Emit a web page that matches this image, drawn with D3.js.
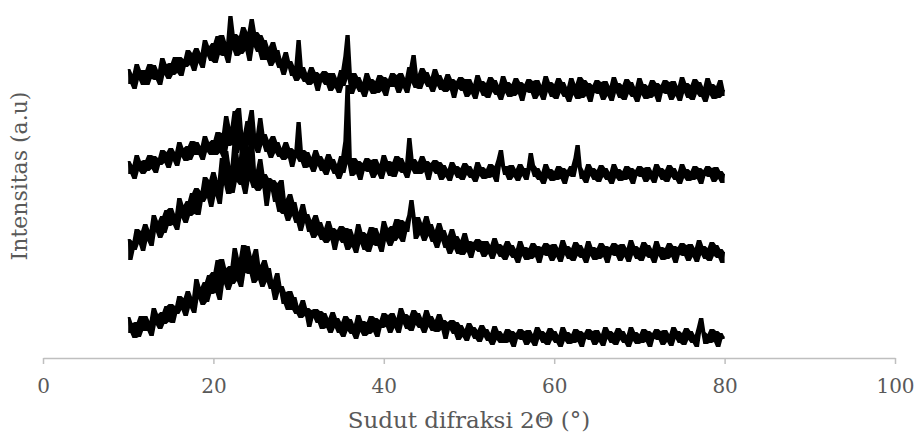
<!DOCTYPE html>
<html>
<head>
<meta charset="utf-8">
<script src="https://cdn.jsdelivr.net/npm/d3@7"></script>
<style>
  body { margin: 0; background: #fff; }
  text { font-family: "DejaVu Serif", serif; }
</style>
</head>
<body>
<div id="chart"></div>
<script>
// ----------------------
// Data (intensitas, a.u., sudah digeser per pola)
// ----------------------
const twoThetaStart = 10;
const twoThetaStep = 0.25;
const xTicks = [0, 20, 40, 60, 80, 100];

const pola1 = [
  287,272,282,267, 292,276,286,271, 286,271,292,277, 291,276,286,271, 298,281,292,277,
  293,281,299,283, 299,280,297,289, 306,291,303,285, 308,293,303,288, 316,300,310,295,
  313,293,320,301, 321,300,314,293, 340,306,322,300, 320,302,329,305, 324,295,337,309,
  324,304,321,296, 316,296,309,290, 314,294,306,288, 297,281,304,288, 295,280,290,275,
  316,278,289,274, 283,271,289,273, 284,265,282,274, 285,271,283,265, 283,268,278,263,
  286,270,300,321, 277,262,283,268, 279,264,274,259, 283,266,277,262, 275,263,281,265,
  279,260,277,269, 283,269,281,263, 283,268,278,263, 289,273,301,268, 282,267,288,273,
  284,269,279,264, 287,270,281,266, 276,264,282,266, 277,258,275,267, 279,265,277,259,
  277,262,272,257, 281,265,275,260, 273,258,279,264, 276,261,271,256, 280,263,274,259,
  272,260,278,262, 274,255,272,264, 277,263,275,257, 276,261,271,256, 280,264,274,259,
  272,257,278,263, 274,259,269,254, 278,261,272,257, 279,258,276,260, 273,254,271,263,
  276,262,274,256, 275,260,270,255, 279,263,273,258, 271,256,277,262, 274,259,269,254,
  278,261,272,257, 270,258,276,260, 273,254,271,263, 276,262,274,256, 275,260,270,255,
  279,263,273,258, 271,256,277,262, 274,259,269,254, 278,261,272,257, 270,258,276,260,
  266
];

const pola2 = [
  195,182,191,177, 201,185,195,182, 196,185,201,187, 200,183,198,191, 206,193,204,188,
  208,195,204,190, 214,199,208,195, 210,196,215,201, 214,201,210,196, 220,204,214,201,
  216,201,224,203, 223,198,240,210, 229,211,245,203, 248,210,223,204, 235,214,246,208,
  222,203,238,211, 222,204,216,198, 220,203,214,199, 208,196,214,198, 208,189,206,198,
  234,194,206,188, 204,189,199,184, 206,190,200,185, 196,181,202,187, 197,182,192,177,
  200,183,215,271, 192,180,198,182, 195,176,193,185, 198,184,196,178, 197,182,192,177,
  201,185,195,180, 194,179,200,185, 198,183,193,178, 218,186,197,182, 194,182,200,184,
  195,176,193,185, 196,182,194,176, 191,179,187,175, 194,182,190,178, 188,176,193,181,
  190,178,186,174, 194,180,189,177, 187,178,192,179, 190,174,197,206, 190,181,190,176,
  191,179,187,175, 192,180,188,176, 186,203,191,179, 188,176,184,172, 192,178,187,175,
  185,176,190,177, 188,172,186,180, 190,179,198,211, 189,177,185,173, 192,180,188,176,
  186,174,191,179, 188,176,184,172, 192,178,187,175, 185,176,190,177, 188,172,186,180,
  190,179,188,174, 189,177,185,173, 192,180,188,176, 186,174,191,179, 188,176,184,172,
  192,178,187,175, 185,176,190,177, 188,172,186,180, 190,179,188,174, 189,177,185,173,
  182
];

const pola3 = [
  117,96,115,106, 127,112,125,105, 132,115,126,110, 141,124,135,118, 140,123,146,130,
  148,131,142,126, 158,138,151,133, 155,140,163,142, 168,141,165,154, 179,158,176,149,
  184,160,176,152, 198,171,205,162, 190,163,215,174, 198,171,221,162, 206,175,218,168,
  186,165,197,168, 182,150,178,165, 176,154,173,144, 176,142,157,135, 162,140,154,133,
  144,125,152,133, 142,124,136,118, 141,121,134,116, 128,113,135,116, 128,106,126,116,
  130,113,128,106, 127,109,121,103, 132,112,124,106, 122,104,129,111, 128,110,122,104,
  135,115,128,110, 130,115,137,118, 136,114,134,124, 141,156,139,117, 139,121,133,115,
  140,120,132,114, 126,108,133,115, 126,108,120,102, 127,107,120,102, 116,101,123,104,
  115,98,114,106, 117,104,115,99, 115,102,111,97, 118,103,112,99, 110,96,115,101,
  111,98,107,93, 115,100,109,96, 108,97,113,99, 110,93,109,101, 113,100,111,95,
  112,99,108,94, 116,101,110,97, 108,95,114,100, 111,98,107,93, 115,100,109,96,
  108,97,113,99, 110,93,109,101, 113,100,111,95, 112,99,108,94, 116,101,110,97,
  108,95,114,100, 111,98,107,93, 115,100,109,96, 108,97,113,99, 110,93,109,101,
  113,100,111,95, 112,99,108,94, 116,101,110,97, 108,95,114,100, 111,98,107,93,
  104
];

const pola4 = [
  39,23,33,18, 34,19,40,25, 40,25,35,20, 48,31,42,27, 44,32,50,34,
  52,33,50,42, 60,46,58,40, 65,48,59,43, 77,57,69,51, 74,54,81,62,
  84,63,96,56, 97,72,88,66, 90,72,108,75, 98,69,111,83, 110,82,100,73,
  107,76,91,69, 96,74,88,67, 76,56,83,64, 70,52,64,46, 65,46,59,42,
  50,38,56,40, 48,29,46,38, 47,33,45,27, 43,28,38,23, 44,28,38,23,
  34,19,40,25, 37,22,32,17, 41,24,35,20, 34,22,40,24, 38,19,36,28,
  43,29,41,23, 43,28,38,23, 48,32,42,27, 40,25,46,31, 43,28,38,23,
  46,29,40,25, 36,24,42,26, 36,17,34,26, 36,22,34,16, 31,19,27,15,
  33,21,29,17, 26,14,31,19, 27,15,23,11, 30,16,25,13, 22,13,27,14,
  25,9,23,17, 27,16,25,11, 26,14,22,10, 29,17,25,13, 23,11,28,16,
  25,13,21,9, 29,15,24,12, 22,13,27,14, 25,9,23,17, 27,16,25,11,
  26,14,22,10, 29,17,25,13, 23,11,28,16, 25,13,21,9, 29,15,24,12,
  22,13,27,14, 25,9,23,17, 27,16,25,11, 26,14,22,10, 29,17,25,13,
  23,11,28,16, 25,13,21,9, 29,38,24,12, 22,13,27,14, 25,9,23,17,
  19
];

const semuaPola = [pola1, pola2, pola3, pola4];

// ----------------------
// Setup
// ----------------------
const W = 917, H = 435;
const margin = { top: 0, right: 22, bottom: 77, left: 43 };

const svg = d3.select("#chart")
    .append("svg")
    .attr("width", W)
    .attr("height", H);

const x = d3.scaleLinear()
    .domain([0, 100])
    .range([margin.left, W - margin.right]);

const y = d3.scaleLinear()
    .domain([-2, 356])
    .range([H - margin.bottom, 0]);

const xAt = i => x(twoThetaStart + i * twoThetaStep);

// Data sangat rapat: pita min-max dari titik yang bersebelahan
const band = d3.area()
    .x(d => xAt(d.i))
    .y0(d => y(d.lo))
    .y1(d => y(d.hi));

const line = d3.line()
    .x((d, i) => xAt(i))
    .y(d => y(d));

semuaPola.forEach(arr => {
    const pts = arr.map((v, i) => {
        const win = arr.slice(Math.max(0, i - 1), i + 2);
        return { i, lo: d3.min(win), hi: d3.max(win) };
    });

    svg.append("path")
        .attr("d", band(pts))
        .attr("fill", "#000");

    svg.append("path")
        .attr("d", line(arr))
        .attr("fill", "none")
        .attr("stroke", "#000")
        .attr("stroke-width", 1);
});

// ----------------------
// Axis
// ----------------------
const xAxis = svg.append("g")
    .attr("transform", `translate(0, ${H - margin.bottom})`)
    .call(d3.axisBottom(x).tickValues(xTicks).tickSize(6).tickPadding(15).tickSizeOuter(0));

xAxis.select(".domain").attr("stroke", "#bfbfbf").attr("stroke-width", 1.5);
xAxis.selectAll(".tick line").attr("stroke", "#bfbfbf").attr("stroke-width", 1.5);
xAxis.selectAll(".tick text")
    .attr("fill", "#595959")
    .style("font-family", "'DejaVu Serif', serif")
    .style("font-size", "20px");

// Axis titles
svg.append("text")
    .attr("x", 469)
    .attr("y", 428)
    .attr("text-anchor", "middle")
    .attr("fill", "#595959")
    .style("font-size", "23px")
    .text("Sudut difraksi 2Θ (°)");

svg.append("text")
    .attr("transform", "translate(27, 176) rotate(-90)")
    .attr("text-anchor", "middle")
    .attr("fill", "#595959")
    .style("font-size", "22px")
    .text("Intensitas (a.u)");
</script>
</body>
</html>
